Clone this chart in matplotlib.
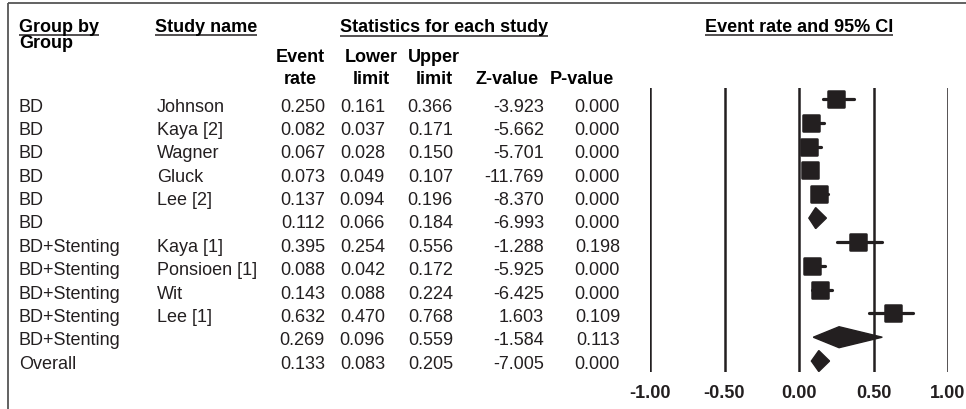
import numpy as np
import matplotlib.pyplot as plt
from matplotlib.markers import MarkerStyle
from matplotlib.ticker import FormatStrFormatter

plt.rcParams['font.family'] = ['Liberation Sans', 'DejaVu Sans']

groups = ["BD", "BD", "BD", "BD", "BD", "BD",
          "BD+Stenting", "BD+Stenting", "BD+Stenting", "BD+Stenting", "BD+Stenting",
          "Overall"]
studies = ["Johnson", "Kaya [2]", "Wagner", "Gluck", "Lee [2]", "",
           "Kaya [1]", "Ponsioen [1]", "Wit", "Lee [1]", "", ""]
rate = [0.250, 0.082, 0.067, 0.073, 0.137, 0.112, 0.395, 0.088, 0.143, 0.632, 0.269, 0.133]
lower = [0.161, 0.037, 0.028, 0.049, 0.094, 0.066, 0.254, 0.042, 0.088, 0.470, 0.096, 0.083]
upper = [0.366, 0.171, 0.150, 0.107, 0.196, 0.184, 0.556, 0.172, 0.224, 0.768, 0.559, 0.205]
zval = [-3.923, -5.662, -5.701, -11.769, -8.370, -6.993, -1.288, -5.925, -6.425, 1.603, -1.584, -7.005]
pval = [0.000, 0.000, 0.000, 0.000, 0.000, 0.000, 0.198, 0.000, 0.000, 0.109, 0.113, 0.000]
summary = [5, 10, 11]
xticks = [-1.0, -0.5, 0.0, 0.5, 1.0]

W, H = 966, 410
ink = '#231f20'
fs = 13

fig = plt.figure(figsize=(W / 100, H / 100), dpi=100)

# overlay in pixel coordinates for the table text and frame
tab = fig.add_axes([0, 0, 1, 1])
tab.set_xlim(0, W)
tab.set_ylim(H, 0)
tab.axis('off')

tab.plot([8, W], [4, 4], color='#555555', lw=1.3, solid_capstyle='butt')
tab.plot([8, 8], [4, H], color='#555555', lw=1.3, solid_capstyle='butt')

underlined = []
underlined.append(tab.text(19, 27, "Group by", fontsize=fs, fontweight='bold', va='center', ha='left'))
tab.text(19, 43, "Group", fontsize=fs, fontweight='bold', va='center', ha='left')
underlined.append(tab.text(155, 27, "Study name", fontsize=fs, fontweight='bold', va='center', ha='left'))
underlined.append(tab.text(444, 28, "Statistics for each study", fontsize=fs, fontweight='bold',
                           va='center', ha='center'))
underlined.append(tab.text(799, 27, "Event rate and 95% CI", fontsize=fs, fontweight='bold',
                           va='center', ha='center'))

col_right = [325, 385, 453, 544, 620]
col_heads = [("Event", "rate"), ("Lower", "limit"), ("Upper", "limit"), ("", "Z-value"), ("", "P-value")]
head_cx = [300, 371, 434, 507, 582]
for cx, (h1, h2) in zip(head_cx, col_heads):
    if h1:
        tab.text(cx, 57, h1, fontsize=fs, fontweight='bold', va='center', ha='center')
    tab.text(cx, 79, h2, fontsize=fs, fontweight='bold', va='center', ha='center')

for i in range(len(rate)):
    y = 107 + 23.4 * i
    tab.text(19, y, groups[i], fontsize=fs, va='center', ha='left', color=ink)
    tab.text(157, y, studies[i], fontsize=fs, va='center', ha='left', color=ink)
    vals = [f"{rate[i]:.3f}", f"{lower[i]:.3f}", f"{upper[i]:.3f}", f"{zval[i]:.3f}", f"{pval[i]:.3f}"]
    for xr, v in zip(col_right, vals):
        tab.text(xr, y, v, fontsize=fs, va='center', ha='right', color=ink)

# forest plot panel
x0, x1 = 650, 948
ytop, ybot = 89, 373
ax = fig.add_axes([x0 / W, (H - ybot) / H, (x1 - x0) / W, (ybot - ytop) / H])
ax.set_xlim(-1, 1)
ax.set_ylim(len(rate) - 1 + 0.46, -0.46)
for s in ax.spines.values():
    s.set_visible(False)
ax.set_yticks([])
ax.set_xticks(xticks)
ax.xaxis.set_major_formatter(FormatStrFormatter('%.2f'))
ax.tick_params(axis='x', length=0, pad=9, labelsize=fs)
for lab in ax.get_xticklabels():
    lab.set_fontweight('bold')
    lab.set_color(ink)
ax.patch.set_alpha(0)

for xt in xticks:
    ax.axvline(xt, color=ink, lw=1.8, zorder=1)

sq = MarkerStyle('s', joinstyle='round')
for i in range(len(rate)):
    if i in summary:
        ax.fill([lower[i], rate[i], upper[i], rate[i]], [i, i - 0.44, i, i + 0.44],
                color=ink, zorder=3, clip_on=False)
    else:
        ax.plot([lower[i], upper[i]], [i, i], color=ink, lw=2.3, zorder=2,
                solid_capstyle='round', clip_on=False)
        ax.plot(rate[i], i, marker=sq, ms=12.2, mew=1.8, color=ink, mec=ink,
                zorder=3, clip_on=False)

# underline the bold headings
fig.canvas.draw()
for t in underlined:
    bb = t.get_window_extent()
    yl = H - bb.y0 + 0.5
    tab.plot([bb.x0, bb.x1], [yl, yl], color=ink, lw=1.1, solid_capstyle='butt')

fig.savefig("out.png", dpi=100)
